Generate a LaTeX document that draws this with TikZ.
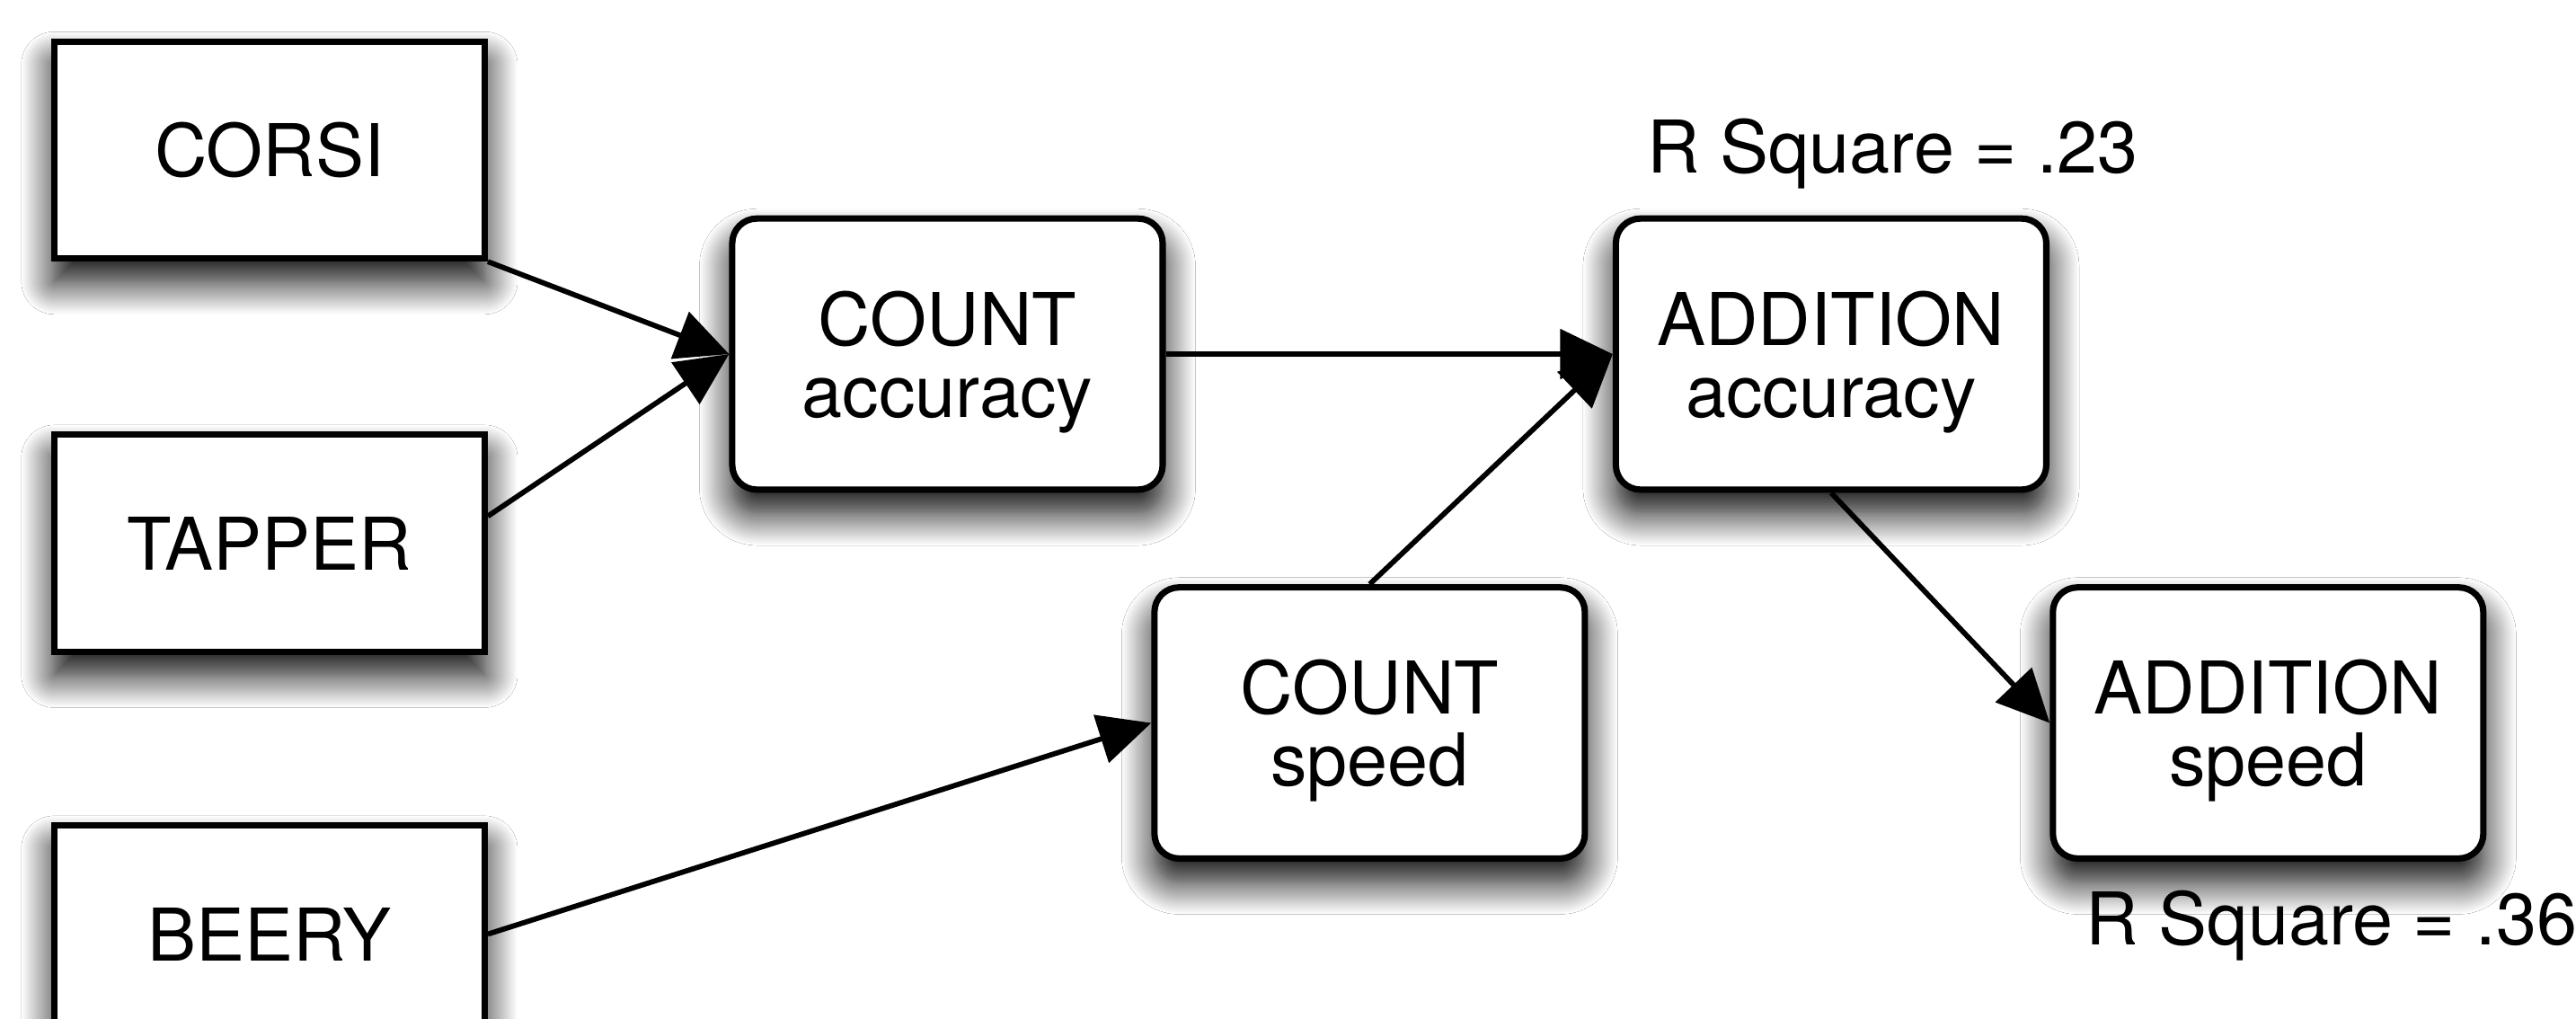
\documentclass[tikz,border=0pt]{standalone}
\usepackage{fontspec}
\setmainfont{TeX Gyre Heros}
\usetikzlibrary{shapes,arrows.meta,calc,positioning,shadows.blur}

\begin{document}
\begin{tikzpicture}[>={Triangle[length=3.2mm,width=3mm]},
  every node/.style={font=\fontsize{12.6}{12.45}\selectfont,align=center},
  measure/.style={draw,rectangle,line width=1.1pt,fill=white,inner sep=0pt,
    minimum width=2.62cm,minimum height=1.32cm,
    blur shadow={shadow xshift=0mm,shadow yshift=-1.4mm,shadow blur radius=2mm,shadow blur steps=20,shadow opacity=100}},
  outcome/.style={measure,rounded corners=1.5mm,minimum height=1.65cm,text depth=0pt},
  link/.style={->,line width=0.9pt},
  rsq/.style={inner sep=0pt,anchor=base west}]

        \fill[white] (0,0) rectangle (15.68,6.20);
        \useasboundingbox (0,0) rectangle (15.68,6.20);

        \node[measure] (corsi) at (1.64,5.287) {CORSI};
        \node[measure] (tapper) [below = 1.035cm of corsi] {TAPPER};
        \node[measure] (beery) [below = 1.02cm of tapper] {BEERY};

        \node[outcome] (countacc) at (5.767,4.045) {COUNT\\accuracy};
        \node[outcome] (addacc) [right = 2.72cm of countacc] {ADDITION\\accuracy};
        \node[outcome] (countspd) at (8.337,1.80) {COUNT\\speed};
        \node[outcome] (addspd) [right = 2.81cm of countspd] {ADDITION\\speed};

        \node[rsq] (rsqacc) at (10.02,5.145) {R Square = .23};
        \node[rsq] (rsqspd) at (12.69,0.45) {R Square = .36};

        \draw[link] (corsi.south east) -- (countacc.west);
        \draw[link] ($(tapper.east)+(0,0.165)$) -- (countacc.west);
        \draw[link] (beery.east) -- (countspd.west);
        \draw[link] (countacc.east) -- (addacc.west);
        \draw[link] (countspd.north) -- (addacc.west);
        \draw[link] (addacc.south) -- (addspd.west);
      \end{tikzpicture}
\end{document}
